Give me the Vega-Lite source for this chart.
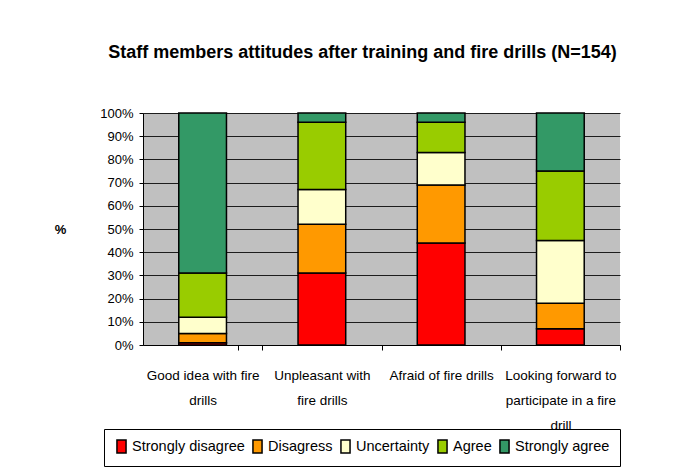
{
  "$schema": "https://vega.github.io/schema/vega-lite/v6.json",
  "width": 477,
  "height": 232,
  "autosize": {"type": "none"},
  "padding": {"left": 143, "top": 113, "right": 73, "bottom": 130},
  "background": "white",
  "config": {
    "font": "Liberation Sans",
    "view": {"fill": "#C0C0C0", "stroke": null}
  },
  "title": {
    "text": "Staff members attitudes after training and fire drills (N=154)",
    "fontSize": 18,
    "fontWeight": "bold",
    "color": "black",
    "baseline": "alphabetic",
    "offset": 31,
    "dx": -19
  },
  "data": {
    "values": [
      {"item": "Good idea with fire drills", "level": "Strongly disagree", "k": 1, "pct": 1},
      {"item": "Good idea with fire drills", "level": "Disagress", "k": 2, "pct": 4},
      {"item": "Good idea with fire drills", "level": "Uncertainty", "k": 3, "pct": 7},
      {"item": "Good idea with fire drills", "level": "Agree", "k": 4, "pct": 19},
      {"item": "Good idea with fire drills", "level": "Strongly agree", "k": 5, "pct": 69},
      {"item": "Unpleasant with fire drills", "level": "Strongly disagree", "k": 1, "pct": 31},
      {"item": "Unpleasant with fire drills", "level": "Disagress", "k": 2, "pct": 21},
      {"item": "Unpleasant with fire drills", "level": "Uncertainty", "k": 3, "pct": 15},
      {"item": "Unpleasant with fire drills", "level": "Agree", "k": 4, "pct": 29},
      {"item": "Unpleasant with fire drills", "level": "Strongly agree", "k": 5, "pct": 4},
      {"item": "Afraid of fire drills", "level": "Strongly disagree", "k": 1, "pct": 44},
      {"item": "Afraid of fire drills", "level": "Disagress", "k": 2, "pct": 25},
      {"item": "Afraid of fire drills", "level": "Uncertainty", "k": 3, "pct": 14},
      {"item": "Afraid of fire drills", "level": "Agree", "k": 4, "pct": 13},
      {"item": "Afraid of fire drills", "level": "Strongly agree", "k": 5, "pct": 4},
      {"item": "Looking forward to participate in a fire drill", "level": "Strongly disagree", "k": 1, "pct": 7},
      {"item": "Looking forward to participate in a fire drill", "level": "Disagress", "k": 2, "pct": 11},
      {"item": "Looking forward to participate in a fire drill", "level": "Uncertainty", "k": 3, "pct": 27},
      {"item": "Looking forward to participate in a fire drill", "level": "Agree", "k": 4, "pct": 30},
      {"item": "Looking forward to participate in a fire drill", "level": "Strongly agree", "k": 5, "pct": 25}
    ]
  },
  "mark": {"type": "bar", "stroke": "black", "strokeWidth": 1.5},
  "encoding": {
    "x": {
      "field": "item",
      "type": "nominal",
      "sort": ["Good idea with fire drills", "Unpleasant with fire drills", "Afraid of fire drills", "Looking forward to participate in a fire drill"],
      "scale": {"paddingInner": 0.6, "paddingOuter": 0.3},
      "axis": {
        "title": null,
        "labelAngle": 0,
        "labelFontSize": 13.5,
        "labelColor": "black",
        "labelLineHeight": 25,
        "labelBaseline": "alphabetic",
        "labelPadding": 29,
        "labelLimit": 300,
        "labelOverlap": false,
        "labelOffset": -59.625,
        "domainColor": "black",
        "ticks": true,
        "tickColor": "black",
        "tickSize": 5,
        "tickWidth": 1,
        "tickOpacity": 1,
        "tickOffset": 59.625,
        "tickExtra": true,
        "grid": false,
        "labelExpr": "datum.value == 'Good idea with fire drills' ? ['Good idea with fire', 'drills'] : datum.value == 'Unpleasant with fire drills' ? ['Unpleasant with', 'fire drills'] : datum.value == 'Looking forward to participate in a fire drill' ? ['Looking forward to', 'participate in a fire', 'drill'] : datum.value"
      }
    },
    "y": {
      "field": "pct",
      "type": "quantitative",
      "stack": "normalize",
      "scale": {"domain": [0, 1]},
      "axis": {
        "values": [0, 0.1, 0.2, 0.3, 0.4, 0.5, 0.6, 0.7, 0.8, 0.9, 1],
        "format": ".0%",
        "labelFontSize": 13,
        "labelColor": "black",
        "labelPadding": 6,
        "tickSize": 4,
        "tickColor": "black",
        "domainColor": "black",
        "grid": true,
        "gridColor": "black",
        "gridOpacity": 0.85,
        "title": "%",
        "titleAngle": 0,
        "titleX": -83,
        "titleY": 116,
        "titleAlign": "center",
        "titleBaseline": "middle",
        "titleFontSize": 13,
        "titleFontWeight": "bold",
        "titleColor": "black"
      }
    },
    "color": {
      "field": "level",
      "type": "nominal",
      "scale": {
        "domain": ["Strongly disagree", "Disagress", "Uncertainty", "Agree", "Strongly agree"],
        "range": ["#FF0000", "#FF9900", "#FFFFCC", "#99CC00", "#339966"]
      },
      "legend": {
        "title": null,
        "orient": "none",
        "legendX": -39,
        "legendY": 316,
        "direction": "horizontal",
        "strokeColor": "black",
        "fillColor": "white",
        "padding": 10,
        "labelFontSize": 14.5,
        "labelColor": "black",
        "labelOffset": 3,
        "columnPadding": 4,
        "symbolType": "M-0.7,-1L0.7,-1L0.7,1L-0.7,1Z",
        "symbolSize": 169,
        "symbolStrokeColor": "black",
        "symbolStrokeWidth": 1.5,
        "symbolOpacity": 1
      }
    },
    "order": {"field": "k", "type": "quantitative"}
  }
}
